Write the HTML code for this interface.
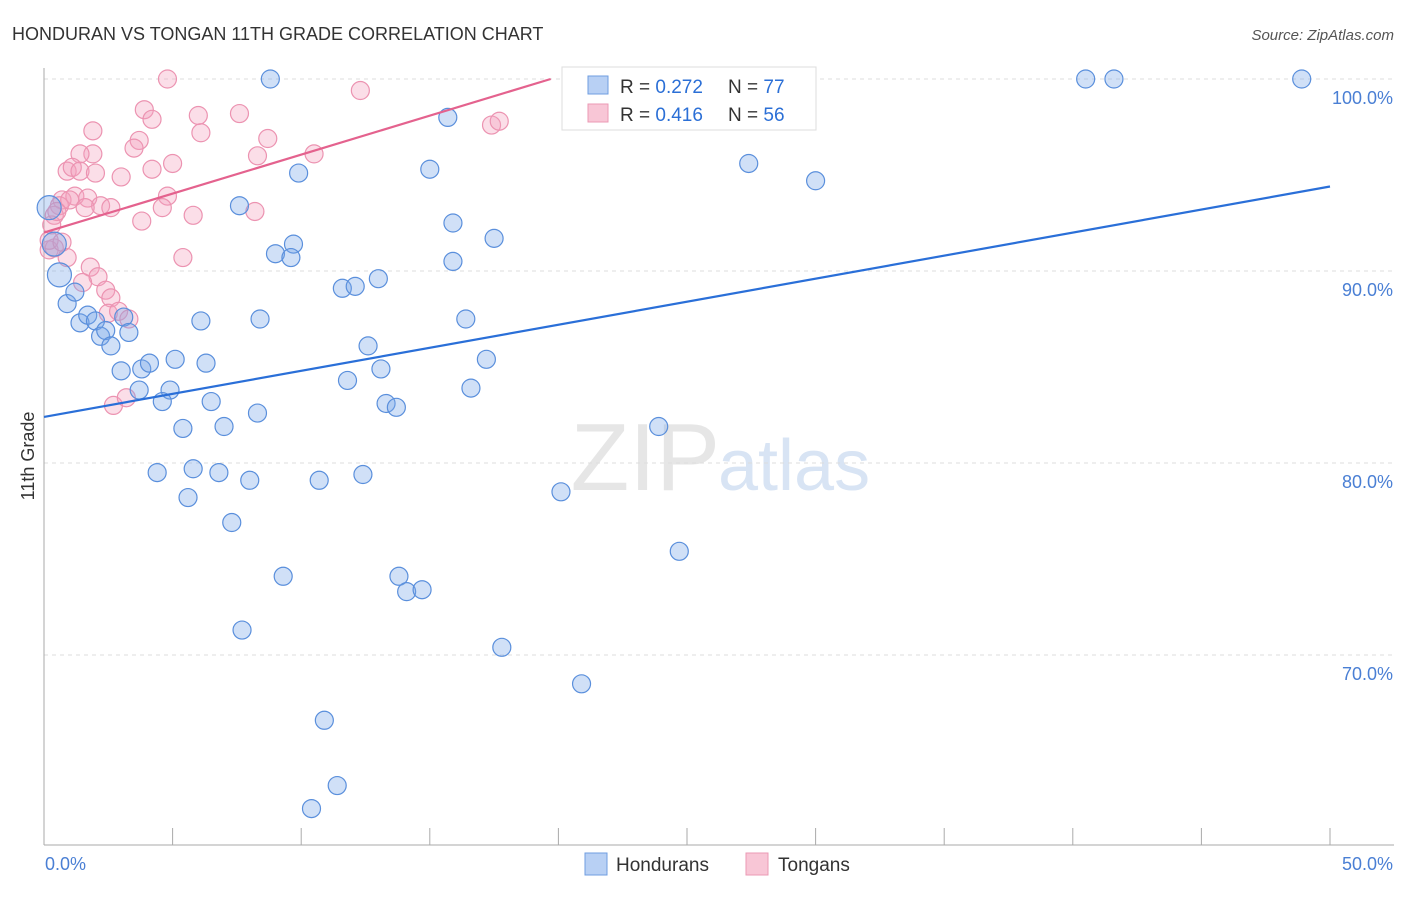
<!DOCTYPE html>
<html><head><meta charset="utf-8"><style>
body{margin:0;background:#fff;font-family:"Liberation Sans",sans-serif}
svg text{font-family:"Liberation Sans",sans-serif}
</style></head><body>
<svg id="c" width="1406" height="892" xmlns="http://www.w3.org/2000/svg">
<text x="12" y="40" font-size="18" fill="#333">HONDURAN VS TONGAN 11TH GRADE CORRELATION CHART</text>
<text x="1394" y="40" font-size="15" fill="#555" font-style="italic" text-anchor="end">Source: ZipAtlas.com</text>
<text x="720" y="490" font-size="96" fill="#e6e6e6" text-anchor="end" font-family="Liberation Serif">ZIP</text>
<text x="718" y="490" font-size="72" fill="#d8e4f4">atlas</text>
<g id="grid"></g><g id="axes"></g><g id="marks"></g>
<text transform="translate(34,456) rotate(-90)" font-size="18" fill="#333" text-anchor="middle">11th Grade</text>
<g>
<rect x="562" y="67" width="254" height="63" fill="#fff" stroke="#ddd"/>
<rect x="588" y="76" width="20" height="18" fill="#b8d0f4" stroke="#6f9ee0"/>
<rect x="588" y="104" width="20" height="18" fill="#f8c6d6" stroke="#eb9ab4"/>
<text x="620" y="93" font-size="19" fill="#333">R = <tspan fill="#2b6fd6">0.272</tspan></text>
<text x="728" y="93" font-size="19" fill="#333">N = <tspan fill="#2b6fd6">77</tspan></text>
<text x="620" y="121" font-size="19" fill="#333">R = <tspan fill="#2b6fd6">0.416</tspan></text>
<text x="728" y="121" font-size="19" fill="#333">N = <tspan fill="#2b6fd6">56</tspan></text>
</g>
<g>
<rect x="585" y="853" width="22" height="22" fill="#b8d0f4" stroke="#6f9ee0"/>
<text x="616" y="871" font-size="19" fill="#333">Hondurans</text>
<rect x="746" y="853" width="22" height="22" fill="#f8c6d6" stroke="#eb9ab4"/>
<text x="778" y="871" font-size="19" fill="#333">Tongans</text>
</g>
</svg>
<script>
const blueX=[8.8,40.5,41.6,48.9,28.1,15.7,27.4,30.0,15.0,9.9,7.6,15.9,17.5,9.7,9.0,9.6,15.9,13.0,11.6,12.1,0.2,0.4,0.6,0.9,1.2,1.4,1.7,2.0,2.2,2.4,2.6,3.1,3.3,6.1,8.4,16.4,12.6,17.2,3.0,3.8,4.1,5.1,6.3,13.1,11.8,3.7,4.9,16.6,4.6,6.5,13.3,13.7,8.3,5.4,7.0,23.9,4.4,5.8,6.8,8.0,10.7,12.4,20.1,5.6,7.3,24.7,9.3,13.8,14.1,14.7,7.7,17.8,20.9,10.9,11.4,10.4];
const blueY=[100,100,100,100,100,98.0,95.6,94.7,95.3,95.1,93.4,92.5,91.7,91.4,90.9,90.7,90.5,89.6,89.1,89.2,93.3,91.4,89.8,88.3,88.9,87.3,87.7,87.4,86.6,86.9,86.1,87.6,86.8,87.4,87.5,87.5,86.1,85.4,84.8,84.9,85.2,85.4,85.2,84.9,84.3,83.8,83.8,83.9,83.2,83.2,83.1,82.9,82.6,81.8,81.9,81.9,79.5,79.7,79.5,79.1,79.1,79.4,78.5,78.2,76.9,75.4,74.1,74.1,73.3,73.4,71.3,70.4,68.5,66.6,63.2,62.0];
const pinkX=[4.8,12.3,3.9,6.0,7.6,4.2,1.9,6.1,8.7,3.7,3.5,1.9,1.4,8.3,10.5,5.0,4.2,0.9,1.1,1.4,2.0,3.0,0.7,1.2,1.7,0.6,1.0,2.2,2.6,1.6,4.8,4.6,8.2,5.8,3.8,0.4,0.3,0.2,0.4,0.9,1.8,2.1,1.5,2.4,2.6,2.5,2.9,3.3,5.4,2.7,3.2,17.4,17.7,0.5,0.2,0.7];
const pinkY=[100,99.4,98.4,98.1,98.2,97.9,97.3,97.2,96.9,96.8,96.4,96.1,96.1,96.0,96.1,95.6,95.3,95.2,95.4,95.2,95.1,94.9,93.7,93.9,93.8,93.4,93.7,93.4,93.3,93.3,93.9,93.3,93.1,92.9,92.6,92.9,92.4,91.1,91.2,90.7,90.2,89.7,89.4,89.0,88.6,87.8,87.9,87.5,90.7,83.0,83.4,97.6,97.8,93.1,91.6,91.5];
const blueLineX=[0,50], blueLineY=[82.4,94.4];
const pinkLineX=[0,19.7], pinkLineY=[92.0,100];
const yTicks=[100,90,80,70];
const yTickLabels=["100.0%","90.0%","80.0%","70.0%"];
const xTickLabels=["0.0%","50.0%"];
const NS="http://www.w3.org/2000/svg";
const sx=v=>44+v*25.72, sy=v=>79+(100-v)*19.2;
function mk(tag,at,parent){const e=document.createElementNS(NS,tag);for(const k in at)e.setAttribute(k,at[k]);document.getElementById(parent).appendChild(e);return e;}
yTicks.forEach((t,i)=>{
 const l=mk('line',{x1:44,x2:1394,y1:sy(t),y2:sy(t),stroke:'#ddd','stroke-dasharray':'4,4'},'grid');
 
 
 const tx=mk('text',{x:1393,y:sy(t)+25,'font-size':18,fill:'#4a7fd4','text-anchor':'end'},'axes');
 tx.textContent=yTickLabels[i];
 
 
});
const ax=mk('line',{x1:44,x2:44,y1:68,y2:845,stroke:'#aaa'},'axes');


const bx=mk('line',{x1:44,x2:1394,y1:845,y2:845,stroke:'#aaa'},'axes');


for(let i=0;i<=10;i++){
 const t=mk('line',{x1:sx(i*5),x2:sx(i*5),y1:828,y2:845,stroke:'#aaa'},'axes');
 
 
}
[[0,'start',45],[50,'end',1393]].forEach((d,i)=>{
 const t=mk('text',{x:d[2],y:870,'font-size':18,fill:'#4a7fd4','text-anchor':d[1]},'axes');
 t.textContent=xTickLabels[i];
 
 
});
pinkX.forEach((x,i)=>{
 const c=mk('circle',{cx:sx(x),cy:sy(pinkY[i]),r:9,fill:'rgba(244,160,188,0.35)',stroke:'#ec93b1','stroke-width':1.2},'marks');
 
 
});
blueX.forEach((x,i)=>{
 const r=x<0.7?12:9;
 const c=mk('circle',{cx:sx(x),cy:sy(blueY[i]),r:r,fill:'rgba(120,165,232,0.35)',stroke:'#5a8fdc','stroke-width':1.2},'marks');
 
 
});
const bl=mk('line',{x1:sx(blueLineX[0]),y1:sy(blueLineY[0]),x2:sx(blueLineX[1]),y2:sy(blueLineY[1]),stroke:'#2a6fd8','stroke-width':2.2},'marks');


const pl=mk('line',{x1:sx(pinkLineX[0]),y1:sy(pinkLineY[0]),x2:sx(pinkLineX[1]),y2:sy(pinkLineY[1]),stroke:'#e4628e','stroke-width':2.2},'marks');


</script>
</body></html>
